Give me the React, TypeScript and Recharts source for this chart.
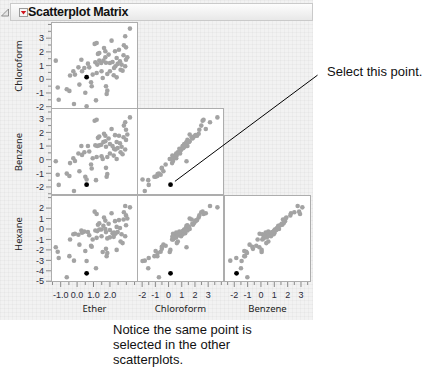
import { ScatterChart, Scatter, XAxis, YAxis } from "recharts";

// one value per observation, same order in every list
const ether = [
  -1.3, -1.18, -1.12, -0.63, -0.47, -0.43, -0.23, -0.19, -0.13, 0.08,
  0.14, 0.26, 0.3, 0.44, 0.5, 0.58, 0.58, 0.66, 0.74, 0.85,
  0.95, 1.07, 1.19, 1.15, 1.19, 1.23, 1.27, 1.35, 1.35, 1.49,
  1.56, 1.6, 1.64, 1.72, 1.72, 1.76, 1.84, 1.76, 1.84, 1.8,
  1.92, 2.0, 2.1, 2.16, 2.23, 2.31, 2.33, 2.41, 2.41, 2.47,
  2.55, 2.61, 2.65, 2.71, 2.77, 2.83, 2.93, 2.98, 2.98, 2.93,
  3.06, 3.22, 2.85, 2.0, 1.47, 1.11, 0.89, 2.25,
];
const chloroform = [
  1.36, -0.6, -1.5, -0.73, -0.85, 0.27, 0.58, -1.8, 0.34, 0.87,
  -0.39, 1.43, 0.58, 0.82, -0.98, 0.15, -1.97, 1.14, 0.87, -0.22,
  0.34, 2.58, 2.65, -1.54, 0.46, 1.07, 1.85, 1.92, 1.36, 0.58,
  0.09, 1.36, 2.28, 2.04, 1.6, 1.21, 0.39, -0.51, -0.83, -1.07,
  1.8, 1.19, 2.82, 1.26, 0.29, 2.04, 0.95, 1.55, 0.14, 1.12,
  2.16, 1.31, 0.7, 1.07, 0.63, 1.75, 3.14, 2.33, 1.43, 0.95,
  1.6, 3.7, 2.48, 0.58, 1.19, 1.24, -0.51, 0.82,
];
const benzene = [
  -0.12, -1.1, -1.85, -1.02, -1.2, -0.25, 0.1, -2.3, -0.1, 0.45,
  -0.85, 1.0, 0.35, 0.55, -1.25, -1.83, -1.45, 1.0, 0.6, -0.35,
  0.1, 2.86, 2.93, -1.5, 0.2, 1.0, 1.6, 1.7, 1.05, 0.25,
  0.05, 1.3, 1.9, 1.75, 1.35, 0.95, 0.2, -0.6, -1.05, -1.25,
  1.55, 1.15, 2.25, 1.0, 0.3, 1.8, 0.75, 1.3, 0.05, 0.85,
  1.75, 1.2, 0.55, 0.95, 0.4, 1.65, 2.75, 2.2, 1.45, 0.75,
  1.85, 3.1, 2.5, 0.45, 1.1, 1.05, -0.65, 0.8,
];
const hexane = [
  -1.75, -2.17, -2.78, -4.62, -2.6, -1.0, -0.5, -3.03, -0.45, -0.55,
  -1.5, -0.15, -0.35, -0.25, -2.1, -4.24, -3.06, -0.3, -0.6, -1.6,
  -1.0, 1.66, 1.44, -3.76, -0.85, -0.2, 0.4, 0.55, -0.05, -0.7,
  -2.2, 0.3, 1.1, 0.8, 0.0, -0.3, -0.9, -1.9, -2.3, -2.6,
  0.5, -0.1, 1.5, -0.4, -0.75, 0.75, -0.45, 0.2, -2.0, -0.3,
  0.85, 0.1, -1.2, -0.5, -1.35, 0.9, 2.2, 1.3, 0.35, -0.7,
  1.0, 2.07, 1.6, -0.8, -0.05, -0.15, -1.7, -0.35,
];
const selected = 15; // the point picked in Benzene by Chloroform

const etherTicks = [-1.5, -1, -0.5, 0, 0.5, 1, 1.5, 2, 2.5, 3, 3.5];
const etherLabels = [-1, 0, 1, 2];
const chloroformTicks = [-2, -1.5, -1, -0.5, 0, 0.5, 1, 1.5, 2, 2.5, 3, 3.5, 4];
const chloroformLabels = [-2, -1, 0, 1, 2, 3];
const benzeneTicks = [-2.5, -2, -1.5, -1, -0.5, 0, 0.5, 1, 1.5, 2, 2.5, 3, 3.5];
const benzeneLabels = [-2, -1, 0, 1, 2, 3];
const hexaneTicks = [-5, -4, -3, -2, -1, 0, 1, 2, 3];
const hexaneLabels = [-5, -4, -3, -2, -1, 0, 1, 2];

type Variable = {
  name: string;
  values: number[];
  ticks: number[];
  labels: number[];
  digits: number;
  xDomain: [number, number];
  yDomain: [number, number];
};

const etherVar: Variable = { name: "Ether", values: ether, ticks: etherTicks, labels: etherLabels, digits: 1, xDomain: [-1.59, 3.71], yDomain: [-1.59, 3.71] };
const chloroformVar: Variable = { name: "Chloroform", values: chloroform, ticks: chloroformTicks, labels: chloroformLabels, digits: 0, xDomain: [-2.39, 4.2], yDomain: [-2.17, 4.18] };
const benzeneVar: Variable = { name: "Benzene", values: benzene, ticks: benzeneTicks, labels: benzeneLabels, digits: 0, xDomain: [-2.77, 3.75], yDomain: [-2.59, 3.79] };
const hexaneVar: Variable = { name: "Hexane", values: hexane, ticks: hexaneTicks, labels: hexaneLabels, digits: 0, xDomain: [-5.07, 3.25], yDomain: [-5.07, 3.25] };

const colVars = [etherVar, chloroformVar, benzeneVar];
const rowVars = [chloroformVar, benzeneVar, hexaneVar];

const colLeft = [51, 137, 224];
const rowTop = [22, 108, 195];
const cell = 87;
const tickFont = "'Liberation Sans', Arial, sans-serif";

function YTick({ x, y, payload, labels }: any) {
  const v = payload.value;
  const major = labels.includes(v);
  return (
    <g>
      <line x1={x - (major ? 5 : 3)} x2={x} y1={y} y2={y} stroke="#8a8a8a" />
      {major && (
        <text x={x - 7} y={y} dy={3.2} textAnchor="end" fontSize={9} fontFamily={tickFont} fill="#2a2a3a">
          {v}
        </text>
      )}
    </g>
  );
}

function XTick({ x, y, payload, labels, digits }: any) {
  const v = payload.value;
  const major = labels.includes(v);
  return (
    <g>
      <line x1={x} x2={x} y1={y} y2={y + (major ? 5 : 3)} stroke="#8a8a8a" />
      {major && (
        <text x={x} y={y + 16} textAnchor="middle" fontSize={9} fontFamily={tickFont} fill="#2a2a3a">
          {v.toFixed(digits)}
        </text>
      )}
    </g>
  );
}

const grayDot = (p: any) => <circle cx={p.cx} cy={p.cy} r={2.3} fill="#a3a3a3" />;
const blackDot = (p: any) => <circle cx={p.cx} cy={p.cy} r={2.4} fill="#000" />;
const calloutDot = (p: any) => (
  <g>
    <line x1={p.cx + 4.4} y1={p.cy - 3.3} x2={p.cx + 147} y2={p.cy - 109.5} stroke="#000" strokeWidth={1} />
    <circle cx={p.cx} cy={p.cy} r={2.4} fill="#000" />
  </g>
);

function Panel({ row, col }: { row: number; col: number }) {
  const xv = colVars[col];
  const yv = rowVars[row];
  const left = colLeft[col];
  const top = rowTop[row];
  const yAxisW = col === 0 ? 30 : 0;
  const xAxisH = row === 2 ? 30 : 0;
  const points = xv.values.map((v, i) => ({ x: v, y: yv.values[i], i }));
  const rest = points.filter((p) => p.i !== selected);
  const picked = points.filter((p) => p.i === selected);
  const callout = row === 1 && col === 1;

  return (
    <>
      <div
        style={{
          position: "absolute",
          left,
          top,
          width: cell,
          height: cell,
          background: "#fff",
          border: "1px solid #adadad",
          boxSizing: "border-box",
        }}
      />
      <div style={{ position: "absolute", left: left - yAxisW, top, zIndex: callout ? 2 : 1 }}>
        <ScatterChart width={cell + yAxisW} height={cell + xAxisH} margin={{ top: 0, right: 0, bottom: 0, left: 0 }}>
          <XAxis
            type="number"
            dataKey="x"
            domain={xv.xDomain}
            hide={row !== 2}
            height={xAxisH}
            ticks={xv.ticks}
            interval={0}
            tickSize={0}
            tickMargin={0}
            tickLine={false}
            axisLine={false}
            tick={(p: any) => <XTick {...p} labels={xv.labels} digits={xv.digits} />}
          />
          <YAxis
            type="number"
            dataKey="y"
            domain={yv.yDomain}
            hide={col !== 0}
            width={yAxisW}
            ticks={yv.ticks}
            interval={0}
            tickSize={0}
            tickMargin={0}
            tickLine={false}
            axisLine={false}
            tick={(p: any) => <YTick {...p} labels={yv.labels} />}
          />
          <Scatter data={rest} shape={grayDot} isAnimationActive={false} />
          <Scatter data={picked} shape={callout ? calloutDot : blackDot} isAnimationActive={false} />
        </ScatterChart>
      </div>
    </>
  );
}

const labelFont = "'Noto Sans', 'Open Sans', sans-serif";
const noteFont = "'Liberation Sans', Arial, sans-serif";

export default function App() {
  const cells: { row: number; col: number }[] = [];
  for (let r = 0; r < 3; r++) for (let c = 0; c <= r; c++) cells.push({ row: r, col: c });

  return (
    <div style={{ position: "absolute", left: 0, top: 0, width: 448, height: 388, background: "#fff", overflow: "hidden" }}>
      <style>{`body{margin:0} svg{overflow:visible}`}</style>

      {/* report background */}
      <div
        style={{
          position: "absolute",
          left: 0,
          top: 0,
          width: 313,
          height: 320,
          background: "#f2f2f2",
          backgroundImage:
            "linear-gradient(rgba(0,0,0,0.025) 1px, transparent 1px), linear-gradient(90deg, rgba(0,0,0,0.025) 1px, transparent 1px)",
          backgroundSize: "4px 4px",
        }}
      />

      {/* outline header */}
      <svg style={{ position: "absolute", left: 0, top: 0 }} width={12} height={24}>
        <polygon points="8.5,9 8.5,16 1.5,16" fill="#e4e4e4" stroke="#7a7a7a" strokeWidth={0.8} />
      </svg>
      <div
        style={{
          position: "absolute",
          left: 10,
          top: 3,
          width: 303,
          height: 18,
          background: "linear-gradient(#fdfdfd, #e8e8e8)",
          border: "1px solid #cacaca",
          boxSizing: "border-box",
        }}
      />
      <svg style={{ position: "absolute", left: 19, top: 7 }} width={10} height={11}>
        <rect x={0.5} y={1.5} width={8} height={8} fill="#f6f6f6" stroke="#9a9a9a" />
        <polygon points="1.8,4 7.2,4 4.5,7.4" fill="#d0141c" />
      </svg>
      <div
        style={{
          position: "absolute",
          left: 28,
          top: 4,
          fontFamily: "'Liberation Sans', Arial, sans-serif",
          fontWeight: "bold",
          fontSize: 12.5,
          lineHeight: "16px",
          color: "#111",
          letterSpacing: -0.3,
        }}
      >
        Scatterplot Matrix
      </div>

      {cells.map((c) => (
        <Panel key={`${c.row}-${c.col}`} row={c.row} col={c.col} />
      ))}

      {/* row titles */}
      {rowVars.map((v, r) => (
        <div
          key={v.name}
          style={{
            position: "absolute",
            left: 18,
            top: r === 2 ? 234 : rowTop[r] + cell / 2,
            transform: "translate(-50%, -50%) rotate(-90deg)",
            fontFamily: labelFont,
            fontSize: 9.5,
            color: "#222",
            whiteSpace: "nowrap",
          }}
        >
          {v.name}
        </div>
      ))}

      {/* column titles */}
      {colVars.map((v, c) => (
        <div
          key={v.name}
          style={{
            position: "absolute",
            left: colLeft[c] + cell / 2,
            top: 308,
            transform: "translate(-50%, -50%)",
            fontFamily: labelFont,
            fontSize: 9.5,
            color: "#222",
            whiteSpace: "nowrap",
          }}
        >
          {v.name}
        </div>
      ))}

      {/* annotations */}
      <div
        style={{
          position: "absolute",
          left: 327,
          top: 64,
          fontFamily: noteFont,
          fontSize: 13,
          lineHeight: "15px",
          color: "#111",
          whiteSpace: "nowrap",
        }}
      >
        Select this point.
      </div>
      <div
        style={{
          position: "absolute",
          left: 113,
          top: 322,
          width: 160,
          fontFamily: noteFont,
          fontSize: 13,
          lineHeight: "15px",
          color: "#111",
        }}
      >
        Notice the same point is
        <br />
        selected in the other
        <br />
        scatterplots.
      </div>
    </div>
  );
}
